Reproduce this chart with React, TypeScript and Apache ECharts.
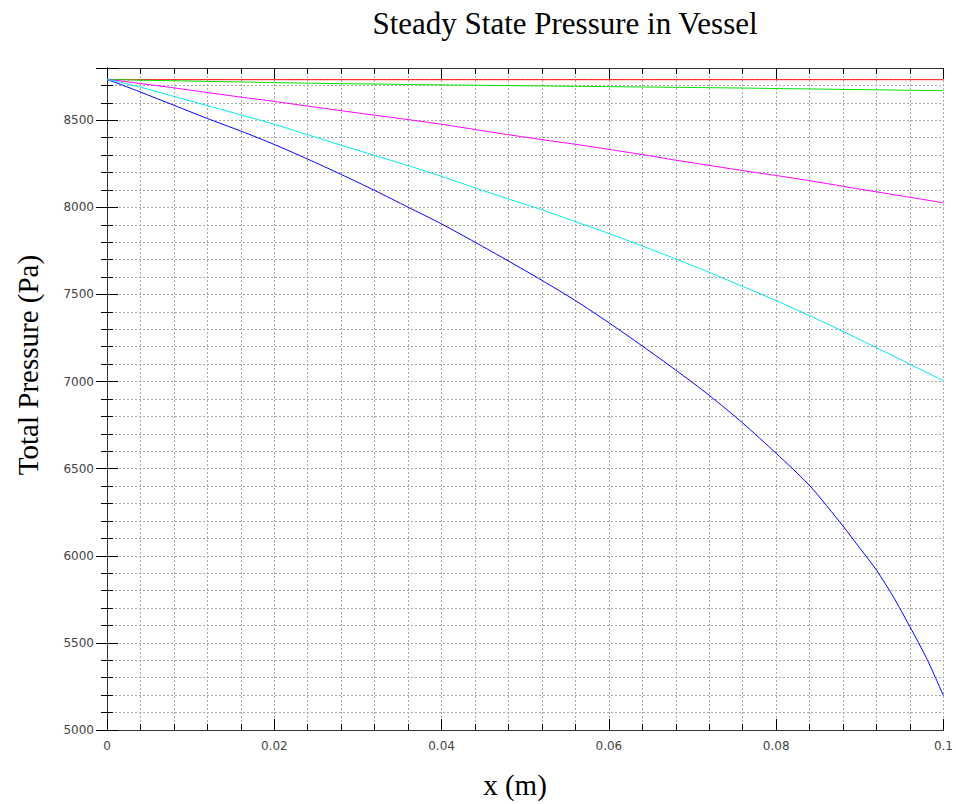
import React, { useEffect, useRef } from "react";
import * as echarts from "echarts";

const titleText = "Steady State Pressure in Vessel";
const xName = "x (m)";
const yName = "Total Pressure (Pa)";

const xs = [0, 0.004, 0.008, 0.012, 0.016, 0.02, 0.024, 0.028, 0.032, 0.036, 0.04, 0.044, 0.048, 0.052, 0.056, 0.06, 0.064, 0.068, 0.072, 0.076, 0.08, 0.084, 0.088, 0.092, 0.096, 0.1];

const redY = [8733, 8733, 8733, 8733, 8733, 8733, 8733, 8733, 8733, 8733, 8733, 8733, 8733, 8733, 8733, 8733, 8733, 8733, 8733, 8733, 8733, 8733, 8733, 8733, 8733, 8733];
const greenY = [8735, 8730, 8727, 8723, 8720, 8716, 8713, 8710, 8708, 8705, 8703, 8701, 8699, 8697, 8695, 8693, 8691, 8689, 8687, 8685, 8682, 8680, 8677, 8675, 8672, 8670];
const magentaY = [8735, 8711, 8686, 8659, 8633, 8608, 8581, 8555, 8529, 8504, 8477, 8447, 8417, 8389, 8362, 8333, 8303, 8271, 8241, 8211, 8183, 8153, 8121, 8089, 8058, 8026];
const cyanY = [8735, 8690, 8637, 8584, 8531, 8477, 8417, 8357, 8298, 8240, 8178, 8112, 8048, 7986, 7918, 7850, 7778, 7704, 7627, 7546, 7465, 7378, 7288, 7194, 7100, 7005];

const blueX = [0, 0.004, 0.008, 0.012, 0.016, 0.02, 0.024, 0.028, 0.032, 0.036, 0.04, 0.044, 0.048, 0.052, 0.056, 0.06, 0.064, 0.068, 0.072, 0.076, 0.08, 0.084, 0.088, 0.09, 0.092, 0.094, 0.096, 0.098, 0.1];
const blueY = [8735, 8662, 8586, 8510, 8438, 8361, 8277, 8189, 8097, 8001, 7905, 7800, 7692, 7581, 7465, 7338, 7204, 7066, 6921, 6762, 6588, 6403, 6170, 6044, 5917, 5765, 5592, 5410, 5197];

const xTicksMajor = 0.02;
const xTicksMinor = 0.004;
const yTicksMajor = 500;
const yTicksMinor = 100;

const pairs = (x: number[], y: number[]) => x.map((v, i) => [v, y[i]]);

export default function App() {
  const ref = useRef<HTMLDivElement>(null);
  useEffect(() => {
    document.body.style.margin = "0";
    const chart = echarts.init(ref.current!, null, { renderer: "svg" });
    const frame = { show: true, lineStyle: { color: "#333", width: 1 } };
    const grid = { show: true, lineStyle: { color: "#a8a8a8", width: 1, type: [2, 2] as any } };
    const labelFont = { fontFamily: "DejaVu Sans", fontSize: 12, color: "#444" };
    const minorX = (pos: string) => ({
      type: "value", gridIndex: 0, position: pos, min: 0, max: 0.1, interval: xTicksMinor,
      axisLine: frame,
      axisTick: { show: true, inside: true, length: 6, lineStyle: { color: "#000" } },
      axisLabel: { show: false },
      splitLine: pos === "bottom" ? grid : { show: false },
    });
    const majorX = (pos: string) => ({
      type: "value", gridIndex: 0, position: pos, min: 0, max: 0.1, interval: xTicksMajor,
      axisLine: { show: false },
      axisTick: { show: true, inside: true, length: 11, lineStyle: { color: "#000" } },
      axisLabel: { show: pos === "bottom", margin: 10, ...labelFont, formatter: (v: number) => String(+v.toFixed(3)) },
      splitLine: { show: false },
    });
    const minorY = (pos: string) => ({
      type: "value", gridIndex: 0, position: pos, min: 5000, max: 8800, interval: yTicksMinor,
      axisLine: frame,
      axisTick: { show: true, inside: true, length: 6, lineStyle: { color: "#000" } },
      axisLabel: { show: false },
      splitLine: pos === "left" ? grid : { show: false },
    });
    const majorY = (pos: string) => ({
      type: "value", gridIndex: 0, position: pos, min: 5000, max: 8800, interval: yTicksMajor,
      axisLine: { show: false },
      axisTick: { show: true, inside: true, length: 11, lineStyle: { color: "#000" } },
      axisLabel: {
        show: pos === "left", margin: 13, ...labelFont,
        formatter: (v: number) => (v % 500 === 0 ? String(v) : ""),
      },
      splitLine: { show: false },
    });
    const line = (name: string, data: number[][], color: string) => ({
      type: "line", name, data, xAxisIndex: 0, yAxisIndex: 0,
      showSymbol: false, symbol: "none", smooth: 0.25,
      lineStyle: { color, width: 1 }, itemStyle: { color },
      z: 5,
    });
    chart.setOption({
      animation: false,
      backgroundColor: "#ffffff",
      grid: { left: 107, right: 9, top: 68, bottom: 74, containLabel: false },
      xAxis: [minorX("bottom"), majorX("bottom"), minorX("top"), majorX("top")],
      yAxis: [minorY("left"), majorY("left"), minorY("right"), majorY("right")],
      series: [
        line("red", pairs(xs, redY), "#ff0000"),
        line("green", pairs(xs, greenY), "#00e000"),
        line("blue", pairs(blueX, blueY), "#0000ff"),
        line("magenta", pairs(xs, magentaY), "#ff00ff"),
        line("cyan", pairs(xs, cyanY), "#00e8f0"),
      ],
      graphic: [
        {
          type: "text", x: 565, y: 23,
          style: { text: titleText, fontFamily: "Liberation Serif", fontSize: 31, fill: "#000", align: "center", verticalAlign: "middle" },
        },
        {
          type: "text", x: 515, y: 785,
          style: { text: xName, fontFamily: "Liberation Serif", fontSize: 29, fill: "#000", align: "center", verticalAlign: "middle" },
        },
        {
          type: "text", x: 28, y: 365, rotation: Math.PI / 2,
          style: { text: yName, fontFamily: "Liberation Serif", fontSize: 29, fill: "#000", align: "center", verticalAlign: "middle" },
        },
      ],
    });
    return () => chart.dispose();
  }, []);
  return <div ref={ref} style={{ width: 956, height: 804 }} />;
}
